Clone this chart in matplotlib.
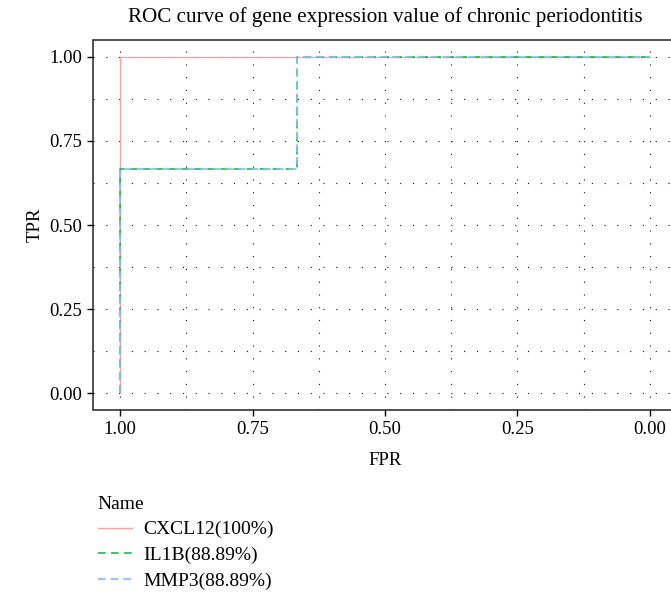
import matplotlib
matplotlib.use("Agg")
import matplotlib.pyplot as plt
from matplotlib.ticker import MultipleLocator

plt.rcParams['font.family'] = ['Liberation Serif', 'DejaVu Serif']

# ROC steps (x axis is shown reversed, 1.00 -> 0.00)
names = ["CXCL12(100%)", "IL1B(88.89%)", "MMP3(88.89%)"]
cxcl12_x = [1.0, 1.0, 0.0]
cxcl12_y = [0.0, 1.0, 1.0]
il1b_x = [1.0, 1.0, 0.6667, 0.6667, 0.0]
il1b_y = [0.0, 0.6667, 0.6667, 1.0, 1.0]
mmp3_x = [1.0, 1.0, 0.6667, 0.6667, 0.0]
mmp3_y = [0.0, 0.6667, 0.6667, 1.0, 1.0]
colors = ["#F8A39C", "#00BA38", "#8CBDEB"]

fig = plt.figure(figsize=(6.71, 5.93), dpi=100)
ax = fig.add_axes([93.5 / 671, 183 / 593, 583 / 671, 370 / 593])

ax.plot(cxcl12_x, cxcl12_y, color=colors[0], lw=1.0, label=names[0], zorder=3)
ax.plot(il1b_x, il1b_y, color=colors[1], lw=1.1, ls=(0, (5, 3.5)), label=names[1], zorder=3)
ax.plot(mmp3_x, mmp3_y, color=colors[2], lw=1.6, ls=(0, (3.5, 2.2)), alpha=0.85,
        label=names[2], zorder=4)

ax.set_xlim(1.05, -0.05)
ax.set_ylim(-0.05, 1.05)
ax.xaxis.set_major_locator(MultipleLocator(0.25))
ax.yaxis.set_major_locator(MultipleLocator(0.25))
ax.xaxis.set_minor_locator(MultipleLocator(0.125))
ax.yaxis.set_minor_locator(MultipleLocator(0.125))
ax.xaxis.set_major_formatter(lambda v, p: f"{abs(v):.2f}")
ax.yaxis.set_major_formatter(lambda v, p: f"{abs(v):.2f}")
ax.grid(True, which="both", color="#111111", lw=0.8, ls=(0, (1, 10.5)))
ax.set_axisbelow(True)

ax.tick_params(which="major", direction="out", length=4, width=1, labelsize=13.5,
               colors="black", pad=4)
ax.tick_params(which="minor", length=0)
for s in ax.spines.values():
    s.set_linewidth(1.1)
    s.set_color("#222222")

ax.set_xlabel("FPR", fontsize=13.5, labelpad=10)
ax.set_ylabel("TPR", fontsize=13.5, labelpad=4)
ax.set_title("ROC curve of gene expression value of chronic periodontitis",
             fontsize=15.2, pad=13)

handles, labels = ax.get_legend_handles_labels()
leg = fig.legend(handles, labels, title="Name", loc="upper left",
                 bbox_to_anchor=(84 / 671, 1 - 482 / 593), frameon=False,
                 fontsize=14, title_fontsize=14, alignment="left",
                 handlelength=1.75, handletextpad=0.6, labelspacing=0.42,
                 borderpad=0.2)

fig.savefig("out.png", dpi=100)
